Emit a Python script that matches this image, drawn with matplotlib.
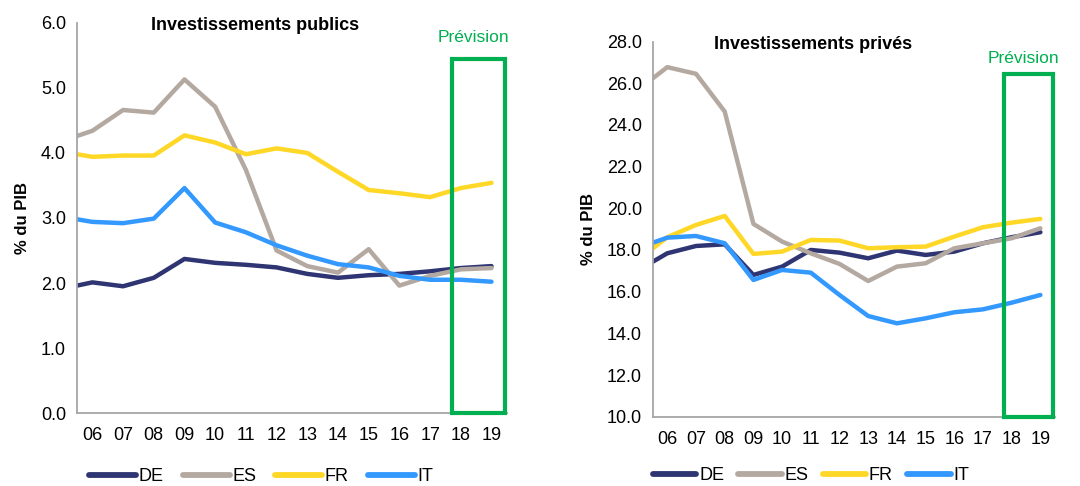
import matplotlib.pyplot as plt
from matplotlib.patches import Rectangle
from matplotlib.lines import Line2D

plt.rcParams['font.family'] = ['Liberation Sans', 'DejaVu Sans']

# Data (first point sits at the left edge of the axis)
years = [5.5, 6, 7, 8, 9, 10, 11, 12, 13, 14, 15, 16, 17, 18, 19]
year_labels = ["06", "07", "08", "09", "10", "11", "12", "13", "14", "15", "16", "17", "18", "19"]

pub_de = [1.96, 2.01, 1.95, 2.08, 2.37, 2.31, 2.28, 2.24, 2.14, 2.08, 2.12, 2.14, 2.18, 2.23, 2.26]
pub_es = [4.26, 4.34, 4.66, 4.62, 5.13, 4.71, 3.74, 2.50, 2.26, 2.16, 2.52, 1.96, 2.11, 2.21, 2.23]
pub_fr = [3.98, 3.94, 3.96, 3.96, 4.27, 4.16, 3.98, 4.07, 4.00, 3.71, 3.43, 3.38, 3.32, 3.46, 3.54]
pub_it = [2.98, 2.94, 2.92, 2.99, 3.46, 2.93, 2.78, 2.58, 2.42, 2.29, 2.24, 2.11, 2.05, 2.05, 2.02]

priv_de = [17.44, 17.84, 18.19, 18.27, 16.80, 17.20, 18.00, 17.87, 17.60, 17.97, 17.76, 17.92, 18.32, 18.61, 18.85]
priv_es = [26.24, 26.77, 26.45, 24.64, 19.25, 18.40, 17.84, 17.33, 16.51, 17.20, 17.36, 18.08, 18.32, 18.56, 19.04]
priv_fr = [18.08, 18.61, 19.20, 19.63, 17.81, 17.92, 18.48, 18.45, 18.08, 18.13, 18.16, 18.64, 19.09, 19.31, 19.49]
priv_it = [18.35, 18.59, 18.67, 18.32, 16.56, 17.04, 16.91, 15.84, 14.83, 14.48, 14.72, 15.01, 15.15, 15.47, 15.84]

countries = ["DE", "ES", "FR", "IT"]
colors = ["#2E3572", "#B4A9A1", "#FFD726", "#3399FF"]
green = "#00B050"

fig = plt.figure(figsize=(10.8, 4.86), dpi=100)
ax1 = fig.add_axes([0.0713, 0.150, 0.398, 0.803])
ax2 = fig.add_axes([0.6046, 0.1426, 0.372, 0.772])


def style_panel(ax, series, ylim, yticks, title, title_xy, box_top, prev_y, leg):
    for vals, col, name in zip(series, colors, countries):
        ax.plot(years, vals, color=col, lw=3.2, label=name, solid_capstyle="round")
    ax.set_xlim(5.5, 19.5)
    ax.set_ylim(*ylim)
    ax.set_yticks(yticks)
    ax.set_yticklabels([f"{t:.1f}" for t in yticks])
    ax.set_xticks(range(6, 20))
    ax.set_xticklabels(year_labels)
    ax.tick_params(length=0, labelsize=13, pad=8)
    ax.tick_params(axis="x", pad=10)
    for s in ["top", "right"]:
        ax.spines[s].set_visible(False)
    for s in ["left", "bottom"]:
        ax.spines[s].set_color("#A6A6A6")
        ax.spines[s].set_linewidth(1.3)
    ax.set_ylabel("% du PIB", fontsize=12, fontweight="bold", labelpad=8)
    ax.text(title_xy[0], title_xy[1], title, transform=ax.transAxes,
            fontsize=13, fontweight="bold", ha="center", va="center")
    # forecast box
    ax.add_patch(Rectangle((17.72, ylim[0]), 1.73, box_top - ylim[0], fill=False,
                           edgecolor=green, lw=3, clip_on=False, zorder=5))
    ax.text(18.4, prev_y, "Prévision", color=green, fontsize=12.5,
            ha="center", va="center", clip_on=False)
    handles = [Line2D([], [], color=c, lw=4.2, solid_capstyle="round") for c in colors]
    lx, ly, hl, cs = leg
    ax.legend(handles, countries, loc="center left", bbox_to_anchor=(lx, ly),
              ncol=4, frameon=False, fontsize=13, handlelength=hl,
              handletextpad=0.15, columnspacing=cs, borderaxespad=0, borderpad=0)


style_panel(ax1, [pub_de, pub_es, pub_fr, pub_it], (0, 6), [0, 1, 2, 3, 4, 5, 6],
            "Investissements publics", (0.415, 0.994), 5.44, 5.78,
            (0.028, -0.162, 2.6, 1.05))
style_panel(ax2, [priv_de, priv_es, priv_fr, priv_it], (10, 28), list(range(10, 30, 2)),
            "Investissements privés", (0.399, 0.991), 26.45, 27.2,
            (0.0, -0.158, 2.4, 0.8))

fig.savefig("out.png", dpi=100)
